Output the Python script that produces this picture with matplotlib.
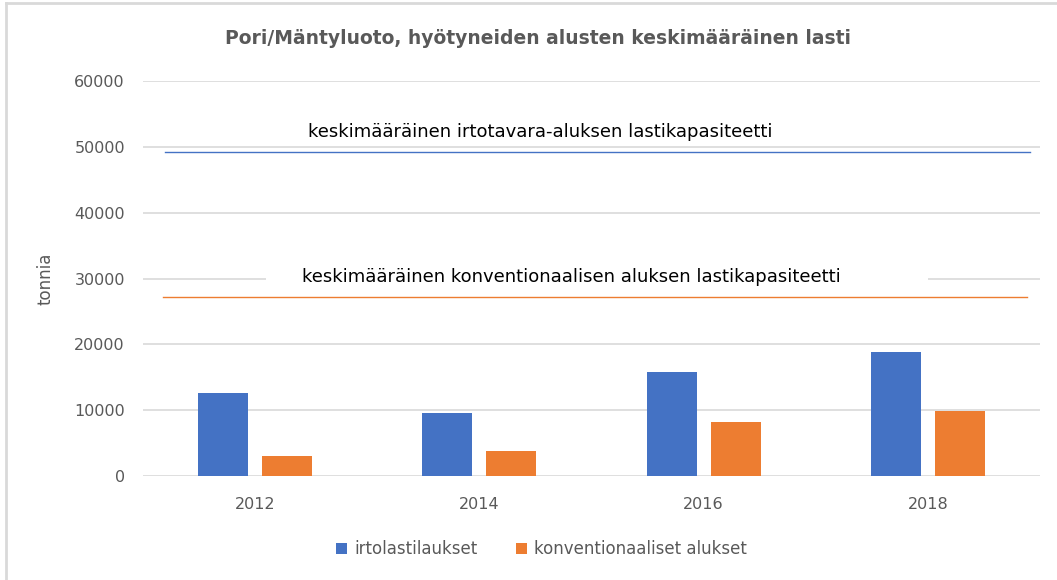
import matplotlib.pyplot as plt
import numpy as np
from matplotlib.lines import Line2D
from matplotlib.patches import Rectangle

# data
years = ["2012", "2014", "2016", "2018"]
irtolasti = [12650, 9600, 15770, 18800]
konventionaali = [3110, 3830, 8210, 9950]
irto_kapasiteetti = 49200
konv_kapasiteetti = 27200

title = "Pori/Mäntyluoto, hyötyneiden alusten keskimääräinen lasti"
irto_label = "keskimääräinen irtotavara-aluksen lastikapasiteetti"
konv_label = "keskimääräinen konventionaalisen aluksen lastikapasiteetti"

blue = "#4472C4"
orange = "#ED7D31"
grey = "#595959"
gridgrey = "#d9d9d9"

plt.rcParams['font.family'] = ['DejaVu Sans']

fig = plt.figure(figsize=(10.57, 5.8), dpi=100)
ax = fig.add_axes([0.1353, 0.1793, 0.8487, 0.681])

x = np.arange(len(years))
w = 0.223
ax.bar(x - 0.143, irtolasti, width=w, color=blue, label="irtolastilaukset", zorder=3)
ax.bar(x + 0.143, konventionaali, width=w, color=orange, label="konventionaaliset alukset", zorder=3)

# capacity lines
ax.plot([-0.40, 3.455], [irto_kapasiteetti, irto_kapasiteetti], color=blue, lw=1, zorder=2)
ax.plot([-0.41, 3.44], [konv_kapasiteetti, konv_kapasiteetti], color=orange, lw=1, zorder=2)
ax.text(1.27, 52300, irto_label, ha="center", va="center", fontsize=13, color="black", zorder=4)
# white label box covering the 30000 gridline (wider on the right, like the original)
ax.add_patch(Rectangle((0.05, 28700), 2.95, 3000, facecolor="white", edgecolor="none", zorder=1.8))
ax.text(1.41, 30200, konv_label, ha="center", va="center", fontsize=13, color="black", zorder=4)

ax.set_xlim(-0.5, 3.5)
ax.set_ylim(0, 60000)
ax.set_yticks(range(0, 60001, 10000))
ax.set_xticks(x)
ax.set_xticklabels(years)
ax.tick_params(length=0, labelsize=11.5, colors=grey)
ax.tick_params(axis="y", pad=13)
ax.tick_params(axis="x", pad=15)
ax.yaxis.grid(True, color=gridgrey, lw=1.2, zorder=0)
for s in ax.spines.values():
    s.set_visible(False)
ax.set_ylabel("tonnia", fontsize=12, color=grey, labelpad=14)

fig.suptitle(title, x=0.509, y=0.95, fontsize=13.5, fontweight="bold", color=grey)

fig.legend(loc="center", bbox_to_anchor=(0.512, 0.053), ncol=2, frameon=False,
           fontsize=12, labelcolor=grey, handlelength=0.7, handleheight=0.7,
           handletextpad=0.4, columnspacing=2.3)

# light border on top and left
fig.add_artist(Line2D([6 / 1057, 6 / 1057], [0, 1 - 3 / 580], transform=fig.transFigure, color=gridgrey, lw=2))
fig.add_artist(Line2D([6 / 1057, 1], [1 - 3 / 580, 1 - 3 / 580], transform=fig.transFigure, color=gridgrey, lw=2))

plt.savefig("out.png", dpi=100)
